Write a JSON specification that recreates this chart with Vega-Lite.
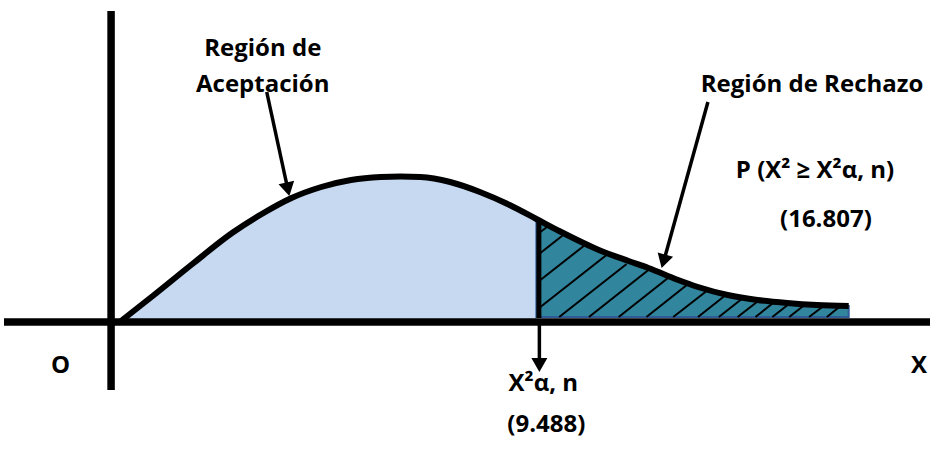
{
  "$schema": "https://vega.github.io/schema/vega-lite/v6.json",
  "width": 934,
  "height": 451,
  "autosize": {"type": "fit", "contains": "padding"},
  "padding": 0,
  "background": "white",
  "config": {"view": {"stroke": null}},
  "datasets": {
    "curve": [
      {"x": 118, "y": 321}, {"x": 150, "y": 296}, {"x": 190, "y": 264},
      {"x": 230, "y": 233}, {"x": 260, "y": 214}, {"x": 290, "y": 198}, {"x": 320, "y": 187},
      {"x": 350, "y": 180}, {"x": 380, "y": 177}, {"x": 400, "y": 176.5}, {"x": 420, "y": 177},
      {"x": 450, "y": 182}, {"x": 480, "y": 192}, {"x": 510, "y": 205}, {"x": 537, "y": 219},
      {"x": 560, "y": 231}, {"x": 600, "y": 250}, {"x": 630, "y": 261}, {"x": 650, "y": 268},
      {"x": 680, "y": 280}, {"x": 700, "y": 287}, {"x": 730, "y": 295}, {"x": 760, "y": 300},
      {"x": 790, "y": 303}, {"x": 820, "y": 305}, {"x": 852, "y": 306}
    ],
    "hatch": [
      {"x": 541, "y": 232, "x2": 549, "y2": 226},
      {"x": 541, "y": 253, "x2": 566, "y2": 233.5},
      {"x": 541, "y": 280, "x2": 586, "y2": 245},
      {"x": 541, "y": 307, "x2": 609, "y2": 254},
      {"x": 560, "y": 317, "x2": 628, "y2": 264},
      {"x": 590, "y": 317, "x2": 650, "y2": 270},
      {"x": 620, "y": 317, "x2": 671, "y2": 277},
      {"x": 648, "y": 317, "x2": 690, "y2": 284},
      {"x": 675, "y": 317, "x2": 710, "y2": 290},
      {"x": 700, "y": 317, "x2": 728, "y2": 295},
      {"x": 721, "y": 317, "x2": 746, "y2": 297.5},
      {"x": 740, "y": 317, "x2": 762, "y2": 300},
      {"x": 758, "y": 317, "x2": 777, "y2": 302},
      {"x": 775, "y": 317, "x2": 793, "y2": 303},
      {"x": 792, "y": 317, "x2": 808, "y2": 304.5},
      {"x": 812, "y": 317, "x2": 828, "y2": 305},
      {"x": 830, "y": 317, "x2": 845, "y2": 305}
    ],
    "divider": [{"x": 539.5, "y": 220, "x2": 539.5, "y2": 318}],
    "axes": [
      {"x": 0, "y": 322, "x2": 934, "y2": 322},
      {"x": 108, "y": 11, "x2": 108, "y2": 390}
    ],
    "shafts": [
      {"x": 265, "y": 92, "x2": 286, "y2": 188},
      {"x": 710, "y": 102, "x2": 665.5, "y2": 261},
      {"x": 540, "y": 322, "x2": 540, "y2": 364}
    ],
    "heads": [
      {"x": 286.3, "y": 189.2, "angle": 347.6},
      {"x": 665.2, "y": 261.3, "angle": 15.7},
      {"x": 540, "y": 365, "angle": 0}
    ],
    "labels": [
      {"label": "Región de", "x": 261, "y": 56},
      {"label": "Aceptación", "x": 261, "y": 92},
      {"label": "Región de Rechazo", "x": 815, "y": 92},
      {"label": "P (X² ≥ X²α, n)", "x": 818, "y": 178},
      {"label": "(16.807)", "x": 829, "y": 227},
      {"label": "X²α, n", "x": 544, "y": 391},
      {"label": "(9.488)", "x": 547, "y": 432},
      {"label": "O", "x": 57, "y": 373},
      {"label": "X", "x": 923, "y": 373}
    ]
  },
  "encoding": {
    "x": {"field": "x", "type": "quantitative", "scale": {"domain": [0, 934], "nice": false, "zero": false}, "axis": null},
    "y": {"field": "y", "type": "quantitative", "scale": {"domain": [0, 451], "nice": false, "zero": false, "reverse": true}, "axis": null}
  },
  "layer": [
    {
      "data": {"name": "curve"},
      "transform": [{"filter": "datum.x <= 537"}],
      "mark": {"type": "area", "interpolate": "monotone", "color": "#C6D9F1"},
      "encoding": {"y2": {"datum": 319}}
    },
    {
      "data": {"name": "curve"},
      "transform": [{"filter": "datum.x >= 537"}],
      "mark": {"type": "area", "interpolate": "monotone", "fill": "#31859C", "stroke": "#2E5C99", "strokeWidth": 2},
      "encoding": {"y2": {"datum": 317}}
    },
    {
      "data": {"name": "hatch"},
      "mark": {"type": "rule", "color": "black", "strokeWidth": 2},
      "encoding": {"x2": {"field": "x2"}, "y2": {"field": "y2"}}
    },
    {
      "data": {"name": "divider"},
      "mark": {"type": "rule", "color": "black", "strokeWidth": 5},
      "encoding": {"x2": {"field": "x2"}, "y2": {"field": "y2"}}
    },
    {
      "data": {"name": "curve"},
      "mark": {"type": "line", "interpolate": "monotone", "color": "black", "strokeWidth": 6, "strokeCap": "butt"}
    },
    {
      "data": {"name": "axes"},
      "mark": {"type": "rule", "color": "black", "strokeWidth": 7.5, "strokeCap": "butt"},
      "encoding": {"x2": {"field": "x2"}, "y2": {"field": "y2"}}
    },
    {
      "data": {"name": "shafts"},
      "mark": {"type": "rule", "color": "black", "strokeWidth": 3.5, "strokeCap": "butt"},
      "encoding": {"x2": {"field": "x2"}, "y2": {"field": "y2"}}
    },
    {
      "data": {"name": "heads"},
      "mark": {"type": "point", "shape": "triangle-down", "filled": true, "color": "black", "opacity": 1, "size": 256},
      "encoding": {"angle": {"field": "angle", "type": "quantitative", "scale": null}}
    },
    {
      "data": {"name": "labels"},
      "mark": {"type": "text", "font": "Open Sans", "fontWeight": "bold", "fontSize": 24, "align": "center", "baseline": "alphabetic", "color": "black"},
      "encoding": {"text": {"field": "label"}}
    }
  ]
}
